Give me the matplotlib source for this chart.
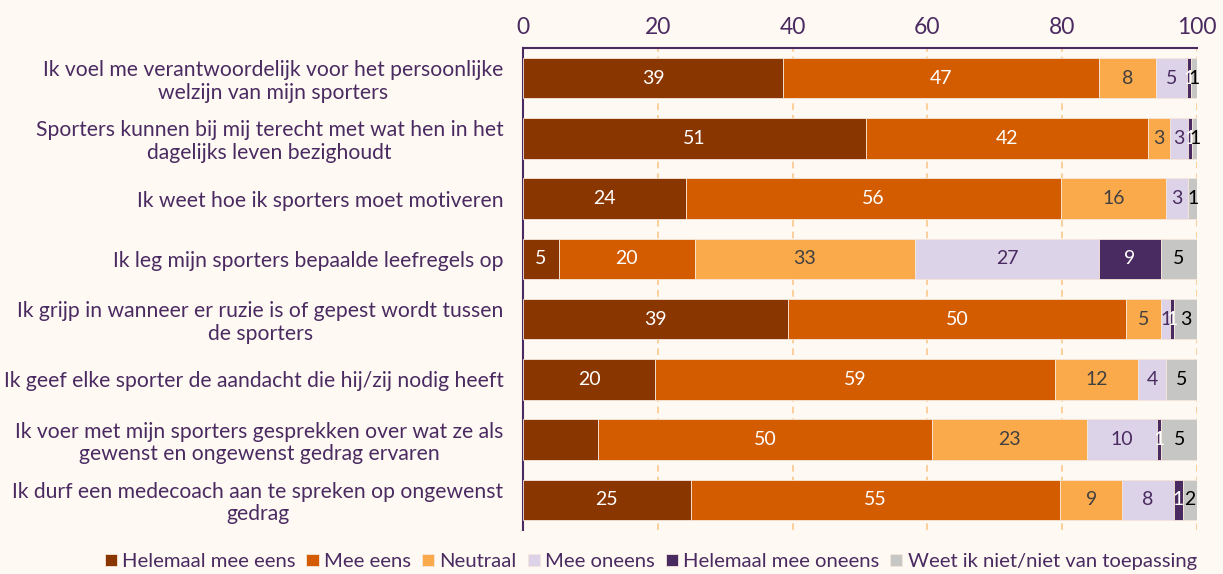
import matplotlib
matplotlib.use("Agg")
import matplotlib.pyplot as plt
import numpy as np

categories = [
    "Ik voel me verantwoordelijk voor het persoonlijke\nwelzijn van mijn sporters",
    "Sporters kunnen bij mij terecht met wat hen in het\ndagelijks leven bezighoudt",
    "Ik weet hoe ik sporters moet motiveren",
    "Ik leg mijn sporters bepaalde leefregels op",
    "Ik grijp in wanneer er ruzie is of gepest wordt tussen\nde sporters",
    "Ik geef elke sporter de aandacht die hij/zij nodig heeft",
    "Ik voer met mijn sporters gesprekken over wat ze als\ngewenst en ongewenst gedrag ervaren",
    "Ik durf een medecoach aan te spreken op ongewenst\ngedrag",
]
series_names = ["Helemaal mee eens", "Mee eens", "Neutraal", "Mee oneens",
                "Helemaal mee oneens", "Weet ik niet/niet van toepassing"]

helemaal_mee_eens = [38.6, 50.9, 24.2, 5.3, 39.3, 19.6, 11.1, 24.9]
mee_eens = [46.9, 41.8, 55.6, 20.2, 50.2, 59.3, 49.6, 54.8]
neutraal = [8.4, 3.3, 15.6, 32.6, 5.2, 12.4, 23.0, 9.2]
mee_oneens = [4.6, 2.7, 3.3, 27.4, 1.3, 4.1, 10.4, 7.7]
helemaal_mee_oneens = [0.6, 0.6, 0.0, 9.1, 0.6, 0.0, 0.6, 1.3]
weet_niet = [0.9, 0.7, 1.3, 5.4, 3.4, 4.6, 5.3, 2.1]

# labels shown in the bars (None = no label)
bar_labels = [
    ["39", "47", "8", "5", "1", "1"],
    ["51", "42", "3", "3", "1", "1"],
    ["24", "56", "16", "3", None, "1"],
    ["5", "20", "33", "27", "9", "5"],
    ["39", "50", "5", "1", "1", "3"],
    ["20", "59", "12", "4", None, "5"],
    [None, "50", "23", "10", "1", "5"],
    ["25", "55", "9", "8", "1", "2"],
]
xticks = [0, 20, 40, 60, 80, 100]

series = [helemaal_mee_eens, mee_eens, neutraal, mee_oneens, helemaal_mee_oneens, weet_niet]
colors = ["#8A3600", "#D35C00", "#FBAA4B", "#DCD3E8", "#4A2B61", "#C6C6C4"]
text_colors = ["white", "white", "#404040", "#4A2B61", "white", "black"]
purple = "#4A2B61"
bg = "#FFF9F3"

plt.rcParams['font.family'] = ['Lato', 'DejaVu Sans']

fig = plt.figure(figsize=(12.23, 5.74), dpi=100)
fig.patch.set_facecolor(bg)
ax = fig.add_axes([523/1223, 1-530/574, (1197-523)/1223, (530-48)/574])
ax.set_facecolor(bg)

y = np.arange(len(categories))
left = np.zeros(len(categories))
for si, (vals, c, name) in enumerate(zip(series, colors, series_names)):
    vals = np.array(vals)
    ax.barh(y, vals, left=left, height=0.67, color=c, edgecolor="#F5E6DA",
            linewidth=0.6, label=name, zorder=3)
    for ri in range(len(categories)):
        lab = bar_labels[ri][si]
        if lab is not None:
            ax.text(left[ri] + vals[ri] / 2, y[ri], lab, ha="center", va="center",
                    color=text_colors[si], fontsize=14, zorder=4)
    left += vals

ax.set_xlim(0, 100)
ax.set_ylim(len(categories) - 0.5, -0.5)
ax.set_xticks(xticks)
ax.xaxis.tick_top()
ax.tick_params(axis="x", length=0, labelsize=16.5, labelcolor=purple, pad=7)
ax.set_yticks(y)
ax.set_yticklabels(categories, fontsize=15.2, color=purple, ha="right",
                   multialignment="center", linespacing=1.15)
ax.tick_params(axis="y", length=0, pad=14)

ax.grid(axis="x", color="#FBC88C", linestyle=(0, (4, 3)), linewidth=1.2, zorder=0)
ax.grid(axis="y", visible=False)
for s in ["right", "bottom"]:
    ax.spines[s].set_visible(False)
for s in ["top", "left"]:
    ax.spines[s].set_color(purple)
    ax.spines[s].set_linewidth(1.5)

leg = fig.legend(loc="lower center", bbox_to_anchor=(0.532, -0.025), ncol=6, frameon=False,
                 fontsize=14.6, handlelength=0.6, handleheight=0.6, handletextpad=0.25,
                 columnspacing=0.55, labelcolor=purple)

fig.savefig("out.png", dpi=100, facecolor=bg)
